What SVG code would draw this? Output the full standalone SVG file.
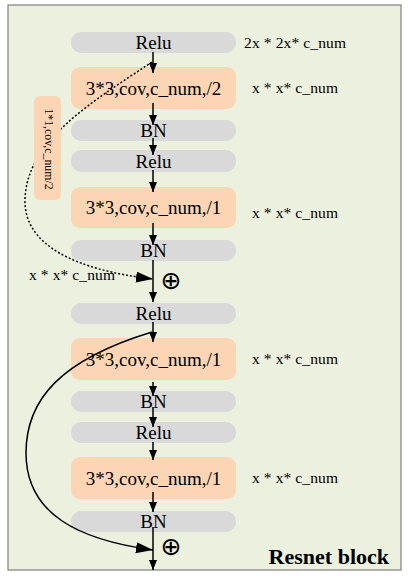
<svg xmlns="http://www.w3.org/2000/svg" width="408" height="576" viewBox="0 0 408 576">
<defs>
<style>
.frame{fill:#EBF1DE;stroke:#7F7F7F;stroke-width:1.2}
.g{fill:#D9D9D9}
.p{fill:#FCD5B5}
.t{font-family:"Liberation Serif","Times New Roman",serif;font-size:19px;fill:#000;text-anchor:middle}
.lab{font-family:"Liberation Serif","Times New Roman",serif;font-size:15.5px;fill:#000}
.side{font-family:"Liberation Serif","Times New Roman",serif;font-size:11.8px;fill:#000;text-anchor:middle}
.op{font-family:"DejaVu Sans",sans-serif;font-size:25px;fill:#000;text-anchor:middle}
.title{font-family:"Liberation Serif","Times New Roman",serif;font-size:22px;font-weight:bold;fill:#000;text-anchor:end}
.a{stroke:#000;stroke-width:1.5;fill:none;marker-end:url(#ah)}
.c{stroke:#000;stroke-width:1.5;fill:none;marker-end:url(#big)}
.d{stroke:#000;stroke-width:1.5;fill:none;stroke-dasharray:2 2;marker-end:url(#big)}
</style>
<marker id="ah" markerUnits="userSpaceOnUse" markerWidth="11" markerHeight="9" refX="10" refY="4" orient="auto" viewBox="0 0 11 9">
<path d="M0,0 L10,4 L0,8 z" fill="#000"/>
</marker>
<marker id="big" markerUnits="userSpaceOnUse" markerWidth="18" markerHeight="12" refX="17" refY="5.5" orient="auto" viewBox="0 0 18 12">
<path d="M0,0 L17,5.5 L0,11 z" fill="#000"/>
</marker>
</defs>
<rect class="frame" x="8" y="5" width="393" height="565"/>
<g id="relu1"><rect class="g" x="71" y="32" width="165" height="21" rx="10"/><text class="t" x="153.5" y="49">Relu</text></g>
<g id="conv1"><rect class="p" x="71" y="67" width="165" height="42" rx="9"/><text class="t" x="153.5" y="94.5">3*3,cov,c_num,/2</text></g>
<g id="bn1"><rect class="g" x="71" y="120" width="165" height="21" rx="10"/><text class="t" x="153.5" y="137">BN</text></g>
<g id="relu2"><rect class="g" x="71" y="150" width="165" height="22" rx="10"/><text class="t" x="153.5" y="167.5">Relu</text></g>
<g id="conv2"><rect class="p" x="71" y="187" width="165" height="41" rx="9"/><text class="t" x="153.5" y="214">3*3,cov,c_num,/1</text></g>
<g id="bn2"><rect class="g" x="71" y="240" width="165" height="21" rx="10"/><text class="t" x="153.5" y="257">BN</text></g>
<g id="relu3"><rect class="g" x="71" y="303" width="165" height="21" rx="10"/><text class="t" x="153.5" y="320">Relu</text></g>
<g id="conv3"><rect class="p" x="71" y="338" width="165" height="42" rx="9"/><text class="t" x="153.5" y="365.5">3*3,cov,c_num,/1</text></g>
<g id="bn3"><rect class="g" x="71" y="391" width="165" height="21" rx="10"/><text class="t" x="153.5" y="408">BN</text></g>
<g id="relu4"><rect class="g" x="71" y="422" width="165" height="21" rx="10"/><text class="t" x="153.5" y="439">Relu</text></g>
<g id="conv4"><rect class="p" x="71" y="457" width="165" height="42" rx="9"/><text class="t" x="153.5" y="484.5">3*3,cov,c_num,/1</text></g>
<g id="bn4"><rect class="g" x="71" y="511" width="165" height="21" rx="10"/><text class="t" x="153.5" y="528">BN</text></g>
<g id="labels">
<text class="lab" x="244" y="48" textLength="102">2x * 2x* c_num</text>
<text class="lab" x="252" y="93" textLength="86">x * x* c_num</text>
<text class="lab" x="252" y="218" textLength="86">x * x* c_num</text>
<text class="lab" x="252" y="364" textLength="86">x * x* c_num</text>
<text class="lab" x="252" y="483" textLength="86">x * x* c_num</text>
<text class="lab" x="29" y="280" textLength="86">x * x* c_num</text>
</g>
<g id="add1"><text class="op" x="171" y="289">⊕</text></g>
<g id="add2"><text class="op" x="171" y="555">⊕</text></g>
<g id="connectors">
<path class="a" d="M153,52 V73"/>
<path class="a" d="M153,103 V125"/>
<path class="a" d="M153,138 V155"/>
<path class="a" d="M153,170 V192"/>
<path class="a" d="M153,223 V245"/>
<path class="a" d="M153,260 V302"/>
<path class="a" d="M153,322 V342"/>
<path class="a" d="M153,382 V396"/>
<path class="a" d="M153,407 V427"/>
<path class="a" d="M153,442 V460"/>
<path class="a" d="M153,492 V512"/>
<path class="a" d="M153,527 V570"/>
<path class="d" d="M152,62 C95,100 26,140 25,200 C24,245 75,270 153,279"/>
<path class="c" d="M152,332 C60,360 26,400 26,453 C26,515 80,540 153,550"/>
</g>
<g id="shortcut-conv"><rect class="p" x="34" y="96" width="27" height="104" rx="6"/><text class="side" transform="translate(44.5,149) rotate(90)">1*1,cov,c_num/2</text></g>
<text class="title" x="389" y="564">Resnet block</text>
</svg>
